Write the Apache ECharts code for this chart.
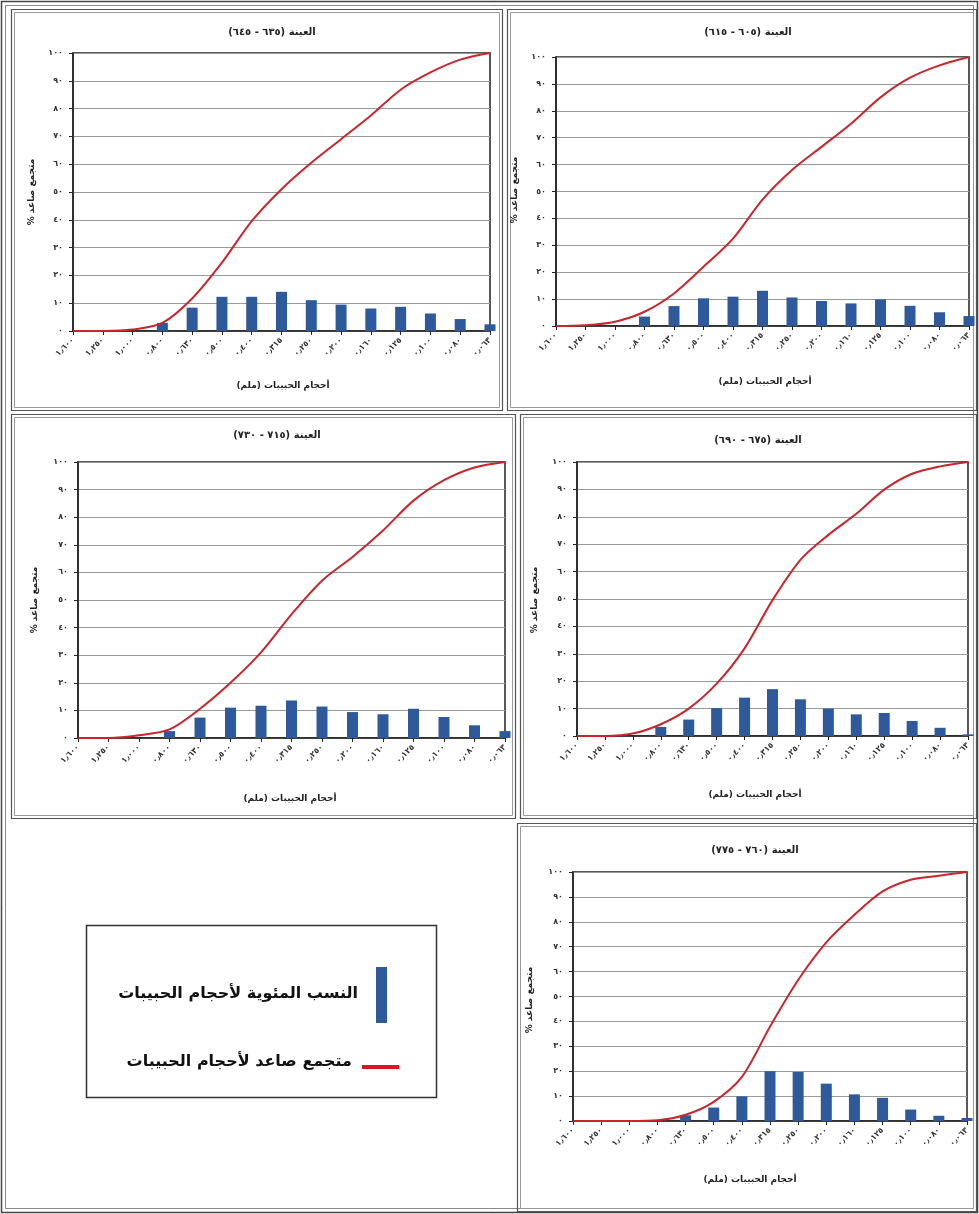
<!DOCTYPE html>
<html lang="ar">
<head>
<meta charset="utf-8">
<script src="https://cdn.jsdelivr.net/npm/echarts@6/dist/echarts.min.js"></script>
<style>
html,body{margin:0;padding:0;background:#fff;}
#c{width:979px;height:1214px;}
</style>
</head>
<body>
<div id="c"></div>
<script>
// ---- data ----
const sizeLabels = ['١٫٦٠٠','١٫٢٥٠','١٫٠٠٠','٠٫٨٠٠','٠٫٦٣٠','٠٫٥٠٠','٠٫٤٠٠','٠٫٣١٥','٠٫٢٥٠','٠٫٢٠٠','٠٫١٦٠','٠٫١٢٥','٠٫١٠٠','٠٫٠٨٠','٠٫٠٦٣'];
const yTickLabels = ['٠','١٠','٢٠','٣٠','٤٠','٥٠','٦٠','٧٠','٨٠','٩٠','١٠٠'];
const sampleTitles = ['العينة (٦٣٥ - ٦٤٥)','العينة (٦٠٥ - ٦١٥)','العينة (٧١٥ - ٧٣٠)','العينة (٦٧٥ - ٦٩٠)','العينة (٧٦٠ - ٧٧٥)'];
const xAxisTitle = 'أحجام الحبيبات (ملم)';
const yAxisTitle = 'متجمع صاعد %';
const legendBarName = 'النسب المئوية لأحجام الحبيبات';
const legendLineName = 'متجمع صاعد لأحجام الحبيبات';

const pct635 = [0,0,0,2.9,8.4,12.3,12.3,14.1,11.1,9.5,8.1,8.7,6.3,4.3,2.4];
const cum635 = [0,0,0.5,2.9,11.7,24.6,39.5,51,60.5,69,77.5,86.8,93,97.6,100];
const pct605 = [0,0,0,3.5,7.4,10.3,10.9,13.1,10.6,9.3,8.4,9.9,7.5,5.1,3.7];
const cum605 = [0,0.3,1.6,5.3,12.1,22,32.5,47,58,66.6,75.2,85,92.3,96.9,100];
const pct715 = [0,0,0,2.5,7.4,11,11.7,13.6,11.4,9.4,8.6,10.6,7.6,4.6,2.5];
const cum715 = [0,0,1,3.1,10.6,20,31,44.8,57,65.6,75.2,86,93.4,98,100];
const pct675 = [0,0,0,3.3,6,10.2,14,17.1,13.4,10,7.9,8.4,5.5,3,0.6];
const cum675 = [0,0,0.9,4.3,10,19.1,32,49.6,64.3,73.4,81.1,89.9,95.7,98.4,100];
const pct760 = [0,0,0,0,2.3,5.4,9.9,20,19.7,15,10.7,9.3,4.6,2.1,1.2];
const cum760 = [0,0,0,0.3,2.5,7.7,17.7,37.9,56.6,71.7,82.8,92.2,96.9,98.5,100];

// ---- layout ----
const FONT = 'DejaVu Sans';
const BAR = '#2e5a9c';
const LINE = '#c9252c';
const RLM = '\u200F';
const rtl = s => RLM + s + RLM;
const panels = [
  {pct:pct635, cum:cum635, grid:{left:73, top:53, width:417, height:278}, title:[267,22], xname:[283,386], yname:[32,192], box:[11,9,491,401]},
  {pct:pct605, cum:cum605, grid:{left:556, top:57, width:413, height:269}, title:[743,22], xname:[765,382], yname:[515,190], box:[507,9,469,401]},
  {pct:pct715, cum:cum715, grid:{left:78, top:462, width:427, height:276}, title:[272,425], xname:[290,799], yname:[35,600], box:[11,414,504,404]},
  {pct:pct675, cum:cum675, grid:{left:577, top:462, width:391, height:274}, title:[753,430], xname:[755,795], yname:[535,600], box:[520,414,456,404]},
  {pct:pct760, cum:cum760, grid:{left:573, top:872, width:394, height:249}, title:[750,840], xname:[750,1180], yname:[530,1000], box:[517,823,459,388]}
];

const grid=[], xAxis=[], yAxis=[], series=[], title=[], graphic=[];

// outer frame (double line)
graphic.push({type:'rect', shape:{x:1.5,y:1.5,width:976,height:1211}, style:{fill:'none', stroke:'#444', lineWidth:1.5}, silent:true});
graphic.push({type:'rect', shape:{x:5.5,y:5.5,width:968,height:1203}, style:{fill:'none', stroke:'#888', lineWidth:1}, silent:true});

panels.forEach((p,i)=>{
  grid.push(Object.assign({show:true, borderColor:'#222', borderWidth:1.5, backgroundColor:'#fff'}, p.grid));
  xAxis.push({
    type:'category', gridIndex:i, data:sizeLabels, boundaryGap:false,
    axisLine:{lineStyle:{color:'#222', width:1.5}},
    axisTick:{show:true, length:4, lineStyle:{color:'#222'}},
    axisLabel:{rotate:45, fontSize:8, fontFamily:FONT, fontWeight:'bold', color:'#333', margin:8},
    splitLine:{show:false}
  });
  yAxis.push({
    type:'value', gridIndex:i, min:0, max:100, interval:10,
    axisLine:{show:true, lineStyle:{color:'#222', width:1.5}},
    axisTick:{show:true, length:4, lineStyle:{color:'#222'}},
    axisLabel:{fontSize:8, fontFamily:FONT, fontWeight:'bold', color:'#333', margin:10,
               formatter:(v)=>yTickLabels[Math.round(v/10)]},
    splitLine:{show:true, lineStyle:{color:'#9a9a9a', width:1}}
  });
  series.push({
    type:'bar', xAxisIndex:i, yAxisIndex:i, data:p.pct, barWidth:11,
    itemStyle:{color:BAR}, clip:true, silent:true, z:2
  });
  series.push({
    type:'line', xAxisIndex:i, yAxisIndex:i, data:p.cum, smooth:0.3,
    showSymbol:false, lineStyle:{color:LINE, width:2}, clip:false, silent:true, z:3
  });
  // panel border (double)
  const b=p.box;
  graphic.push({type:'rect', shape:{x:b[0]+0.5,y:b[1]+0.5,width:b[2],height:b[3]}, style:{fill:'none', stroke:'#555', lineWidth:1.2}, silent:true});
  graphic.push({type:'rect', shape:{x:b[0]+3.5,y:b[1]+3.5,width:b[2]-6,height:b[3]-6}, style:{fill:'none', stroke:'#999', lineWidth:1}, silent:true});
  title.push({text:rtl(sampleTitles[i]), left:p.title[0], top:p.title[1], textAlign:'center',
    textStyle:{fontFamily:FONT, fontSize:10, fontWeight:'bold', color:'#222'}});
  graphic.push({type:'text', x:p.xname[0], y:p.xname[1], silent:true,
    style:{text:rtl(xAxisTitle), textAlign:'center', textVerticalAlign:'middle', font:'bold 9px "DejaVu Sans"', fill:'#222'}});
  graphic.push({type:'text', x:p.yname[0], y:p.yname[1], rotation:Math.PI/2, silent:true,
    style:{text:rtl(yAxisTitle), textAlign:'center', textVerticalAlign:'middle', font:'bold 9px "DejaVu Sans"', fill:'#222'}});
});

// legend box
graphic.push({type:'rect', shape:{x:86.5,y:925.5,width:350,height:172}, style:{fill:'#fff', stroke:'#333', lineWidth:1.5}, silent:true});
graphic.push({type:'rect', shape:{x:376,y:967,width:11,height:56}, style:{fill:BAR}, silent:true});
graphic.push({type:'text', x:358, y:994, silent:true,
  style:{text:rtl(legendBarName), textAlign:'right', textVerticalAlign:'middle', font:'bold 16px "DejaVu Sans"', fill:'#111'}});
graphic.push({type:'line', shape:{x1:362,y1:1067,x2:399,y2:1067}, style:{stroke:'#e0141e', lineWidth:4}, silent:true});
graphic.push({type:'text', x:352, y:1062, silent:true,
  style:{text:rtl(legendLineName), textAlign:'right', textVerticalAlign:'middle', font:'bold 16px "DejaVu Sans"', fill:'#111'}});

const chart = echarts.init(document.getElementById('c'), null, {renderer:'canvas'});
chart.setOption({animation:false, backgroundColor:'#fff', title, grid, xAxis, yAxis, series, graphic});
</script>
</body>
</html>
